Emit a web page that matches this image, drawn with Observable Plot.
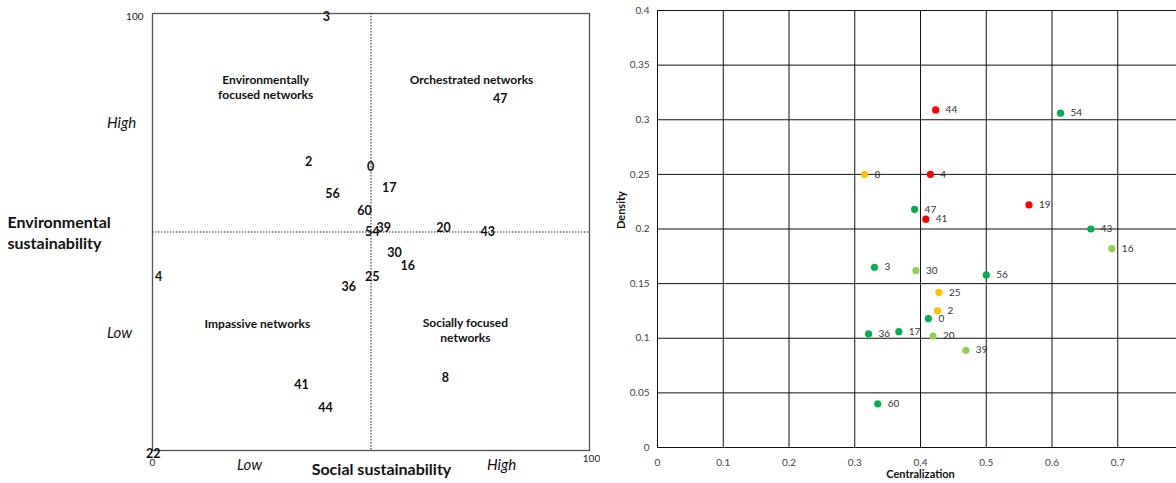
<!DOCTYPE html>
<html>
<head>
<meta charset="utf-8">
<script src="https://cdn.jsdelivr.net/npm/d3@7"></script>
<script src="https://cdn.jsdelivr.net/npm/@observablehq/plot@0.6"></script>
<style>
  html, body { margin: 0; padding: 0; background: #fff; overflow: hidden; }
  #wrap { display: flex; flex-wrap: nowrap; width: 1176px; height: 483px; overflow: hidden; }
  #wrap > * { flex-shrink: 0; }
</style>
</head>
<body>
<div id="wrap"></div>
<script>
// ---- Left panel: quadrant of network sustainability scores ----
const networkIds   = ["3","47","2","0","17","56","60","39","54","20","43","30","16","25","36","4","41","44","8","22"];
const socialScore  = [39.8,79.6,35.7,49.9,54.2,41.2,48.5,52.9,50.3,66.6,76.7,55.4,58.4,50.3,44.9,1.4,34.1,39.6,67.0,0.2];
const envScore     = [99.1,80.5,66.1,64.8,60.0,58.8,54.7,51.0,49.9,51.0,50.1,45.3,42.3,39.8,37.5,39.8,14.9,9.8,16.5,-0.9];

const quadrantNames = ["Environmentally\nfocused networks","Orchestrated networks","Impassive networks","Socially focused\nnetworks"];
const quadrantX     = [25.9, 73.0, 24.0, 71.6];
const quadrantY     = [83.3, 85.1, 29.1, 27.7];

// ---- Right panel: centralization vs density ----
const pointIds       = ["44","54","8","4","19","47","41","43","16","3","30","56","25","2","0","36","17","20","39","60"];
const centralization = [0.423,0.613,0.315,0.415,0.565,0.391,0.408,0.659,0.691,0.330,0.393,0.500,0.428,0.426,0.412,0.321,0.367,0.419,0.469,0.335];
const density        = [0.309,0.306,0.250,0.250,0.222,0.218,0.209,0.200,0.182,0.165,0.162,0.158,0.142,0.125,0.118,0.104,0.106,0.102,0.089,0.040];
const tier           = ["red","green","orange","red","red","green","red","green","light","green","light","green","orange","orange","green","green","green","light","light","green"];

const tierNames  = ["red","orange","light","green"];
const tierColors = ["#ff0000","#ffc000","#92d050","#00b050"];

const xTickValues = [0,0.1,0.2,0.3,0.4,0.5,0.6,0.7];
const xGridValues = [0,0.1,0.2,0.3,0.4,0.5,0.6,0.7,0.8];
const yTickValues = [0,0.05,0.1,0.15,0.2,0.25,0.3,0.35,0.4];

const font = "Lato, 'Open Sans', sans-serif";

const leftData = networkIds.map((id, i) => ({id, x: socialScore[i], y: envScore[i]}));
const quadData = quadrantNames.map((t, i) => ({t, x: quadrantX[i], y: quadrantY[i]}));

const left = Plot.plot({
  width: 600, height: 483,
  marginLeft: 152, marginRight: 11, marginTop: 13, marginBottom: 33,
  x: {domain: [0, 100], axis: null},
  y: {domain: [0, 100], axis: null},
  style: {fontFamily: font, background: "#fff", overflow: "visible"},
  marks: [
    Plot.frame({stroke: "#555", strokeWidth: 1.3}),
    Plot.ruleX([50], {stroke: "#222", strokeDasharray: "1.5,1.5"}),
    Plot.ruleY([50], {stroke: "#222", strokeDasharray: "1.5,1.5"}),
    Plot.text(quadData, {x: "x", y: "y", text: "t", fontSize: 12, fontWeight: "bold", fill: "#111", lineHeight: 1.3}),
    Plot.text(leftData, {x: "x", y: "y", text: "id", fontSize: 12.5, fontWeight: "bold", fill: "#111"}),
    Plot.text(["100"], {x: 0, y: 100, dx: -9, dy: 3, textAnchor: "end", fontSize: 10, fill: "#222"}),
    Plot.text(["0"], {x: 0, y: 0, dy: 12, fontSize: 10, fill: "#222"}),
    Plot.text(["100"], {x: 100, y: 0, dy: 8, dx: 2, fontSize: 10, fill: "#222"}),
    Plot.text(["High"], {x: 0, y: 75, dx: -31, fontSize: 15, fontStyle: "italic", fill: "#111"}),
    Plot.text(["Low"], {x: 0, y: 26.8, dx: -33, fontSize: 15, fontStyle: "italic", fill: "#111"}),
    Plot.text(["Environmental\nsustainability"], {x: 0, y: 50, dx: -145, textAnchor: "start", fontSize: 16, fontWeight: "bold", fill: "#111", lineHeight: 1.3}),
    Plot.text(["Low"], {x: 22.2, y: 0, dy: 15, fontSize: 15, fontStyle: "italic", fill: "#111"}),
    Plot.text(["Social sustainability"], {x: 52.4, y: 0, dy: 19, fontSize: 16, fontWeight: "bold", fill: "#111"}),
    Plot.text(["High"], {x: 79.9, y: 0, dy: 15, fontSize: 15, fontStyle: "italic", fill: "#111"})
  ]
});

const rightData = pointIds.map((id, i) => ({id, x: centralization[i], y: density[i], tier: tier[i]}));

const right = Plot.plot({
  width: 583, height: 483,
  marginLeft: 57, marginRight: 0, marginTop: 10, marginBottom: 36,
  x: {domain: [0, 0.8], label: null},
  y: {domain: [0, 0.4], label: null},
  color: {domain: tierNames, range: tierColors},
  style: {fontFamily: font, background: "#fff"},
  marks: [
    Plot.gridX(xGridValues, {stroke: "#111", strokeOpacity: 1, strokeWidth: 1}),
    Plot.gridY(yTickValues, {stroke: "#111", strokeOpacity: 1, strokeWidth: 1}),
    Plot.axisX(xTickValues, {tickSize: 0, tickPadding: 11, fontSize: 10, color: "#444", label: null, tickFormat: d => String(d)}),
    Plot.axisY(yTickValues, {tickSize: 0, tickPadding: 8, fontSize: 10, color: "#444", label: null, tickFormat: d => String(d)}),
    Plot.dot(rightData, {x: "x", y: "y", fill: "tier", r: 3.6}),
    Plot.text(rightData, {x: "x", y: "y", text: "id", dx: 10, textAnchor: "start", fontSize: 10, fill: "#333"}),
    Plot.text(["Density"], {frameAnchor: "left", dx: -36, rotate: -90, fontSize: 11, fontWeight: "bold", fill: "#111"}),
    Plot.text(["Centralization"], {x: 0.4, frameAnchor: "bottom", dy: 30, fontSize: 11, fontWeight: "bold", fill: "#111"})
  ]
});

document.getElementById("wrap").append(left, right);
</script>
</body>
</html>
